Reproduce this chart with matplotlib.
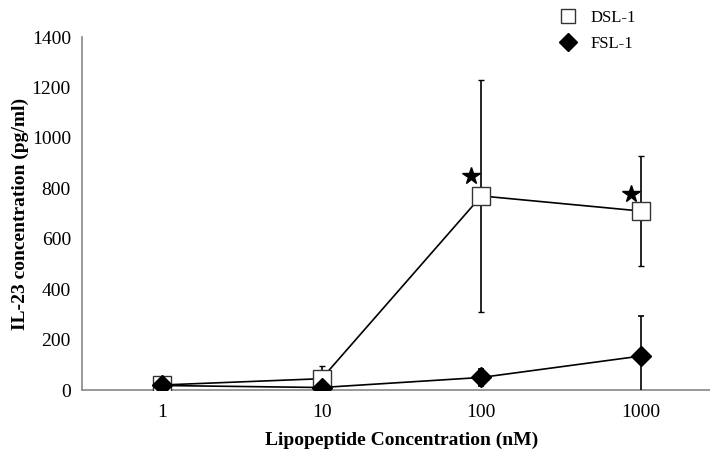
import numpy as np
import matplotlib.pyplot as plt

plt.rcParams['font.family'] = ['Liberation Serif', 'DejaVu Serif']

# ----- data -----
conc_labels = ['1', '10', '100', '1000']
dsl_mean = [20, 45, 770, 710]
dsl_err = [10, 50, 460, 218]
fsl_mean = [18, 10, 50, 135]
fsl_err = [8, 6, 35, 157]
star_series = [None, None, 850, 778]   # significance marks above DSL-1

x = np.arange(len(conc_labels))

fig = plt.figure(figsize=(7.1, 4.53), dpi=100)
ax = fig.add_axes([0.1155, 0.139, 0.9, 0.779])

ax.errorbar(x, dsl_mean, yerr=dsl_err, color='black', lw=1.2,
            marker='s', ms=12.5, mfc='white', mec='#333333', mew=1.0,
            capsize=2.5, elinewidth=1.2, capthick=1.2, label='DSL-1', zorder=3)
ax.errorbar(x, fsl_mean, yerr=fsl_err, color='black', lw=1.2,
            marker='D', ms=10.5, mfc='black', mec='black',
            capsize=2.5, elinewidth=1.2, capthick=1.2, label='FSL-1', zorder=4)

for xi, s in zip(x, star_series):
    if s is not None:
        ax.plot(xi - 0.065, s, marker='*', ms=13, color='black', ls='none')

ax.set_xlim(-0.5, 3.5)
ax.set_ylim(0, 1400)
ax.set_yticks(np.arange(0, 1401, 200))
ax.set_xticks(x)
ax.set_xticklabels(conc_labels)
ax.tick_params(length=0, labelsize=14, pad=10)
ax.tick_params(axis='y', pad=8)

for side in ['top', 'right']:
    ax.spines[side].set_visible(False)
for side in ['left', 'bottom']:
    ax.spines[side].set_color('#888888')
    ax.spines[side].set_linewidth(1.2)

ax.set_xlabel('Lipopeptide Concentration (nM)', fontsize=14, fontweight='bold', labelpad=8)
ax.set_ylabel('IL-23 concentration (pg/ml)', fontsize=14, fontweight='bold', labelpad=2)

handles, labels = ax.get_legend_handles_labels()
handles = [h[0] for h in handles]
leg = fig.legend(handles, labels, loc='upper left', bbox_to_anchor=(0.77, 1.012),
                 frameon=False, fontsize=12, handlelength=0.8, handletextpad=0.9,
                 labelspacing=0.6, markerscale=0.85)
for h in leg.legend_handles:
    h.set_linestyle('none')

fig.savefig('out.png', dpi=100)
